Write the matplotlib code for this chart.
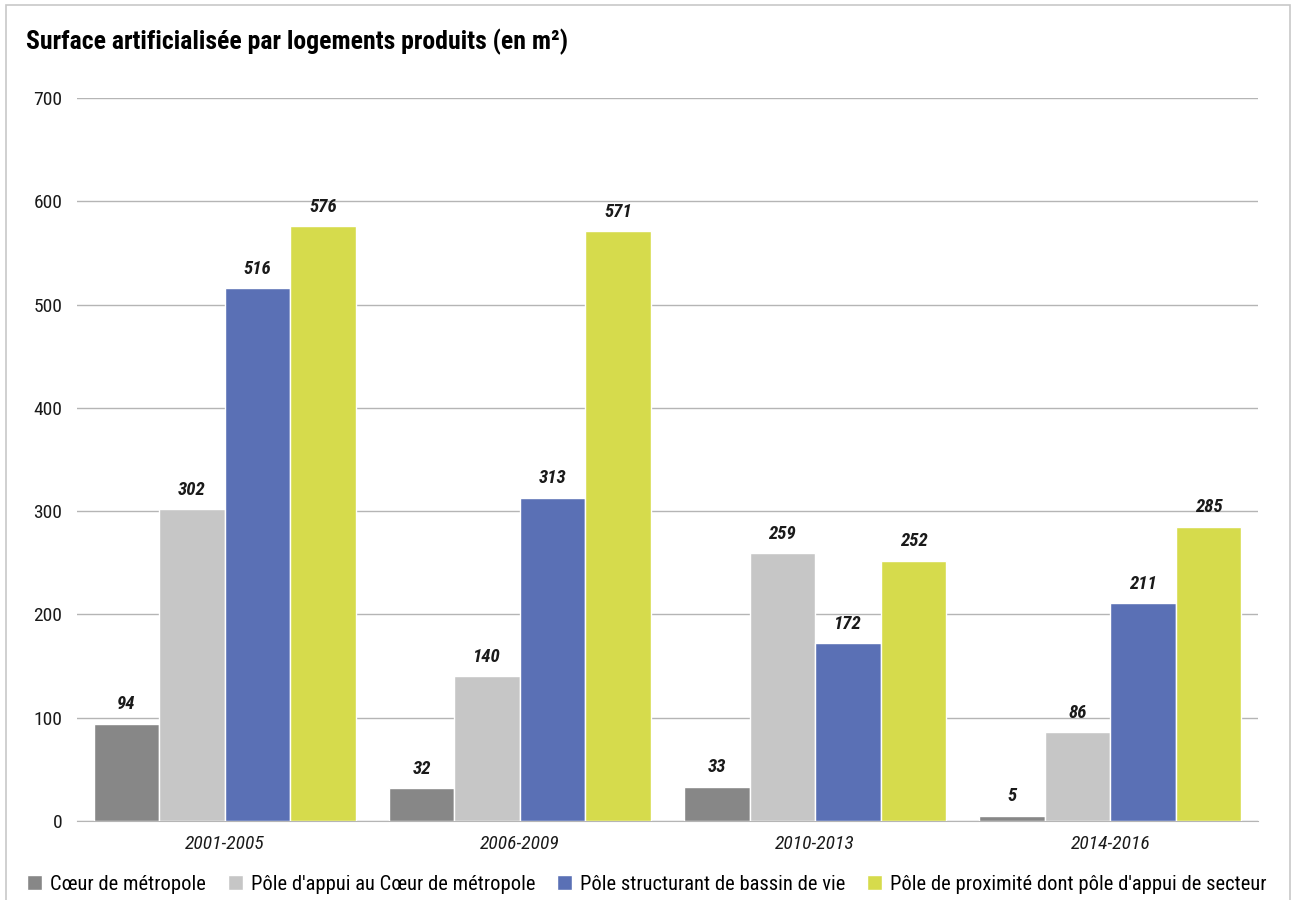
import numpy as np
import matplotlib
matplotlib.use("Agg")
import matplotlib.pyplot as plt
from matplotlib.patches import Rectangle

plt.rcParams['font.family'] = ['Roboto Condensed', 'DejaVu Sans']

periods = ["2001-2005", "2006-2009", "2010-2013", "2014-2016"]
series_names = ["Cœur de métropole",
                "Pôle d'appui au Cœur de métropole",
                "Pôle structurant de bassin de vie",
                "Pôle de proximité dont pôle d'appui de secteur"]
coeur = [94, 32, 33, 5]
appui = [302, 140, 259, 86]
structurant = [516, 313, 172, 211]
proximite = [576, 571, 252, 285]
colors = ["#878787", "#c6c6c6", "#5a70b5", "#d6db4c"]

fig = plt.figure(figsize=(12.92, 9), dpi=100)
ax = fig.add_axes([77 / 1292, 1 - 821 / 900, (1258 - 77) / 1292, (821 - 98) / 900])

x = np.arange(len(periods))
width = 0.222
offsets = np.array([-1.5, -0.5, 0.5, 1.5]) * width
for vals, name, col, off in zip([coeur, appui, structurant, proximite], series_names, colors, offsets):
    bars = ax.bar(x + off, vals, width, color=col, edgecolor="white", linewidth=1, label=name, zorder=3)
    for b, v in zip(bars, vals):
        ax.annotate(str(v), (b.get_x() + b.get_width() / 2, v), xytext=(0, 7.5),
                    textcoords="offset points", ha="center", va="bottom",
                    fontsize=13.5, fontweight="bold", fontstyle="italic", color="#1a1a1a")

ax.set_xlim(-0.5, len(periods) - 0.5)
ax.set_ylim(0, 700)
ax.set_yticks(range(0, 701, 100))
ax.set_xticks(x)
ax.set_xticklabels(periods, fontstyle="italic", fontsize=14, color="#222222")
ax.tick_params(axis="both", length=0, labelsize=14, colors="#1a1a1a")
ax.tick_params(axis="y", pad=10.5)
ax.tick_params(axis="x", pad=10)
ax.grid(axis="y", color="#b5b5b5", linewidth=1, zorder=0)
for s in ["top", "right", "left"]:
    ax.spines[s].set_visible(False)
ax.spines["bottom"].set_color("#b5b5b5")

fig.text(26 / 1292, 1 - 49 / 900, "Surface artificialisée par logements produits (en m²)",
         fontsize=18.5, fontweight="bold", va="baseline", ha="left")

fig.legend(loc="center", bbox_to_anchor=(647 / 1292, 1 - 884 / 900), ncol=4, frameon=False,
           fontsize=14.8, handlelength=0.72, handleheight=0.72, handletextpad=0.4,
           columnspacing=1.05, borderpad=0, borderaxespad=0)

fig.patches.append(Rectangle((6 / 1292, -0.02), 1284 / 1292, 1.0 - 5 / 900 + 0.02,
                             transform=fig.transFigure, fill=False, edgecolor="#c8c8c8",
                             linewidth=1.2))

fig.savefig("out.png", dpi=100)
